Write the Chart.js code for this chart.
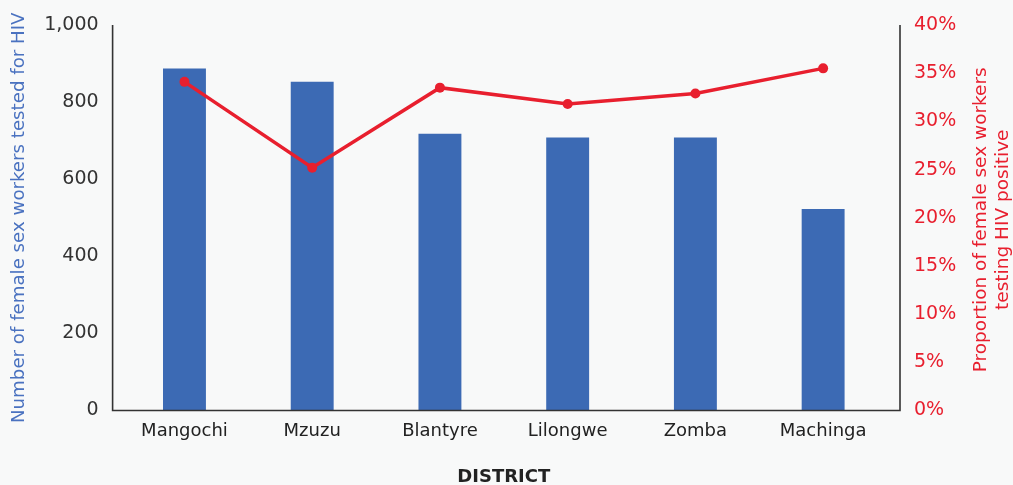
<!DOCTYPE html>
<html>
<head>
<meta charset="utf-8">
<script src="https://cdn.jsdelivr.net/npm/chart.js@4"></script>
<style>
  html, body { margin: 0; padding: 0; background: #f8f9f9; }
  #wrap { width: 1013px; height: 485px; position: relative; }
</style>
</head>
<body>
<div id="wrap"><canvas id="myChart"></canvas></div>
<script>
const districts = ["Mangochi", "Mzuzu", "Blantyre", "Lilongwe", "Zomba", "Machinga"];
const testedCounts = [887, 853, 718, 708, 708, 523];
const positivePct = [34.1, 25.2, 33.5, 31.8, 32.9, 35.5];
const leftTicks = [0, 200, 400, 600, 800, 1000];
const rightTicks = [0, 5, 10, 15, 20, 25, 30, 35, 40];

const FONT = "'DejaVu Sans', sans-serif";
const BLUE = "#3c6ab4";
const RED = "#e81f2e";

// L-shaped frame + right axis title drawn by hand
const framePlugin = {
  id: "frame",
  afterDatasetsDraw(chart) {
    const { ctx, chartArea } = chart;
    const l = chartArea.left - 8, r = chartArea.right + 13;
    ctx.save();
    ctx.strokeStyle = "#333";
    ctx.lineWidth = 1.6;
    ctx.beginPath();
    ctx.moveTo(l, chartArea.top);
    ctx.lineTo(l, chartArea.bottom);
    ctx.lineTo(r, chartArea.bottom);
    ctx.lineTo(r, chartArea.top);
    ctx.stroke();
    ctx.restore();
  },
  afterDraw(chart) {
    const { ctx, chartArea } = chart;
    ctx.save();
    ctx.translate(992, (chartArea.top + chartArea.bottom) / 2 + 2);
    ctx.rotate(-Math.PI / 2);
    ctx.fillStyle = RED;
    ctx.font = "18.5px " + FONT;
    ctx.textAlign = "center";
    ctx.textBaseline = "middle";
    ctx.fillText("Proportion of female sex workers", 0, -11);
    ctx.fillText("testing HIV positive", 0, 11);
    ctx.restore();
  }
};

new Chart("myChart", {
  type: "bar",
  data: {
    labels: districts,
    datasets: [
      {
        type: "line",
        data: positivePct,
        yAxisID: "y1",
        borderColor: RED,
        backgroundColor: RED,
        borderWidth: 3.5,
        pointRadius: 5,
        pointBackgroundColor: RED,
        pointBorderWidth: 0,
        order: 0
      },
      {
        type: "bar",
        data: testedCounts,
        yAxisID: "y",
        backgroundColor: BLUE,
        barPercentage: 0.336,
        categoryPercentage: 1,
        order: 1
      }
    ]
  },
  options: {
    responsive: true,
    maintainAspectRatio: false,
    animation: false,
    layout: { padding: { top: 25, left: 0, right: 0, bottom: 0 } },
    plugins: {
      legend: { display: false },
      tooltip: { enabled: false }
    },
    scales: {
      x: {
        grid: { display: false, drawTicks: false },
        border: { display: false },
        ticks: { color: "#222", font: { family: FONT, size: 18 }, padding: 10 },
        title: {
          display: true,
          text: "DISTRICT",
          color: "#222",
          font: { family: FONT, size: 18, weight: "bold" },
          padding: { top: 17, bottom: -3 }
        },
        afterFit(scale) { scale.height = 74.5; }
      },
      y: {
        position: "left",
        min: 0,
        max: 1000,
        afterBuildTicks(scale) { scale.ticks = leftTicks.map(v => ({ value: v })); },
        grid: { display: false, drawTicks: true, tickLength: 22 },
        border: { display: false },
        ticks: {
          color: "#333",
          font: { family: FONT, size: 19 },
          padding: 0,
          callback: v => v.toLocaleString("en-US")
        },
        title: {
          display: true,
          text: "Number of female sex workers tested for HIV",
          color: "#4a72c0",
          font: { family: FONT, size: 18.2 },
          padding: { top: 8, bottom: 0 }
        },
        afterFit(scale) { scale.width = 120.6; }
      },
      y1: {
        position: "right",
        min: 0,
        max: 40,
        afterBuildTicks(scale) { scale.ticks = rightTicks.map(v => ({ value: v })); },
        grid: { display: false, drawTicks: true, tickLength: 27 },
        border: { display: false },
        ticks: {
          color: RED,
          font: { family: FONT, size: 19 },
          padding: 0,
          callback: v => v + "%"
        },
        afterFit(scale) { scale.width = 126; }
      }
    }
  },
  plugins: [framePlugin]
});
</script>
</body>
</html>
